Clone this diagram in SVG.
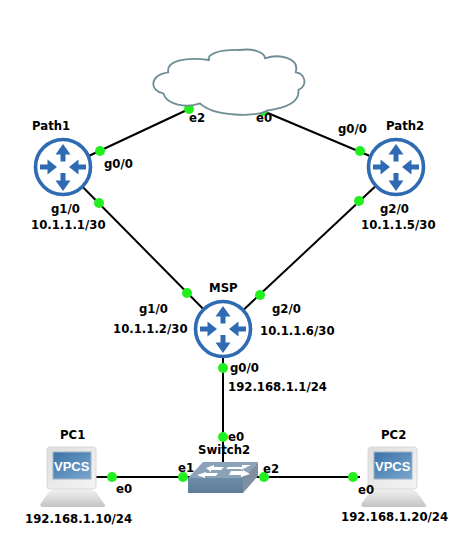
<svg xmlns="http://www.w3.org/2000/svg" width="472" height="551" viewBox="0 0 472 551">
<style>
text{font-family:"DejaVu Sans","Liberation Sans",sans-serif;font-weight:700;font-size:11.7px;fill:#000}
.link{stroke:#000;stroke-width:2;fill:none}
.dot{fill:#22f01e}
.vp{font-family:"Liberation Sans",sans-serif;font-size:13px;fill:#fff}
</style>
<defs>
<linearGradient id="scr" x1="0" y1="0" x2="1" y2="1"><stop offset="0" stop-color="#3a73a8"/><stop offset="1" stop-color="#7ba6cd"/></linearGradient>
<linearGradient id="mon" x1="0" y1="0" x2="1" y2="1"><stop offset="0" stop-color="#dedede"/><stop offset="1" stop-color="#f4f4f4"/></linearGradient>
<linearGradient id="bas" x1="0" y1="0" x2="0" y2="1"><stop offset="0" stop-color="#f2f2f2"/><stop offset="1" stop-color="#c4c4c4"/></linearGradient>
<linearGradient id="swf" x1="0" y1="0" x2="0" y2="1"><stop offset="0" stop-color="#6e8ca6"/><stop offset="1" stop-color="#5d7d99"/></linearGradient>
<g id="router">
<circle r="27.500" fill="#fff" stroke="#2f6bb3" stroke-width="3.600"/>
<path fill="#2f6bb3" d="M0-23 7.500-12.500H2.500V-5.500H-2.500V-12.500H-7.500Z"/>
<path fill="#2f6bb3" d="M0 24 7.500 13.500H2.500V6H-2.500V13.500H-7.500Z"/>
<path fill="#2f6bb3" d="M-6 0-15.500-7.500V-2.500H-23V2.500H-15.500V7.500Z"/>
<path fill="#2f6bb3" d="M6 0 15.500-7.500V-2.500H23V2.500H15.500V7.500Z"/>
</g>
<g id="pc">
<path d="M7 42H44L49 45 58 58Q59 60 55 60H-4Q-8 60-6 56L2 45Z" fill="url(#bas)"/>
<rect x="0" y="0" width="49" height="42" rx="3" fill="url(#mon)" stroke="#d8d8d8"/>
<rect x="6" y="5" width="38" height="27" fill="url(#scr)" stroke="#9fb4c6"/>
<text class="vp" x="7" y="24">VPCS</text>
</g>
</defs>
<rect width="472" height="551" fill="#fff"/>
<g id="connectors">
<path class="link" d="M63 168 189 109"/>
<path class="link" d="M396 167 263 111"/>
<path class="link" d="M63 167 223 329"/>
<path class="link" d="M396 167 223 329"/>
<path class="link" d="M223 329V470"/>
<path class="link" d="M90 477H360"/>
<circle class="dot" cx="100" cy="151" r="5"/>
<circle class="dot" cx="189" cy="109" r="5"/>
<circle class="dot" cx="360" cy="151" r="5"/>
<circle class="dot" cx="263" cy="111" r="5"/>
<circle class="dot" cx="99" cy="203" r="5"/>
<circle class="dot" cx="187" cy="293" r="5"/>
<circle class="dot" cx="359" cy="201" r="5"/>
<circle class="dot" cx="260" cy="295" r="5"/>
<circle class="dot" cx="223" cy="368" r="5"/>
</g>
<g id="cloud">
<path transform="translate(130 40) scale(.3333)" fill="#fff" stroke="#6f8f96" stroke-width="5.500" stroke-linejoin="round" d="M115 97C108 62 165 50 238 60 228 45 262 28 330 30 365 25 405 35 405 55 450 40 510 55 497 97 525 100 535 135 505 150 510 185 470 205 410 212 380 232 250 230 210 190 170 205 110 195 100 160 60 155 55 105 115 97Z"/>
<text x="189" y="122">e2</text>
<text x="256" y="122">e0</text>
</g>
<g id="Path1">
<use href="#router" x="63" y="167"/>
<text x="32" y="130">Path1</text>
<text x="104" y="168">g0/0</text>
<text x="51" y="213">g1/0</text>
<text x="31" y="229">10.1.1.1/30</text>
</g>
<g id="Path2">
<use href="#router" x="396" y="167"/>
<text x="386" y="130">Path2</text>
<text x="338" y="133">g0/0</text>
<text x="380" y="213">g2/0</text>
<text x="361" y="229">10.1.1.5/30</text>
</g>
<g id="MSP">
<use href="#router" x="223" y="329"/>
<text x="209" y="292">MSP</text>
<text x="139" y="313">g1/0</text>
<text x="113" y="333">10.1.1.2/30</text>
<text x="272" y="313">g2/0</text>
<text x="260" y="335">10.1.1.6/30</text>
<text x="230" y="372">g0/0</text>
<text x="228" y="391">192.168.1.1/24</text>
</g>
<g id="Switch2">
<path d="M188 478 203 462H258L243 478Z" fill="#8ba3b8"/>
<path d="M188 478H243V493H188Z" fill="url(#swf)"/>
<path d="M243 478 258 462V476L243 493Z" fill="#7f8f9f"/>
<path fill="#fff" d="M206 468 214 465V467H224L221 470H211V472ZM228 467H242V465L251 465 245 468 241 470V469H226ZM197 475 206 472V473H218L216 476H205V478ZM231 471H243V470L250 474 241 477V475H229Z"/>
<circle class="dot" cx="223" cy="437" r="5"/>
<circle class="dot" cx="183" cy="477" r="5"/>
<circle class="dot" cx="264" cy="477" r="5"/>
<text x="228" y="441">e0</text>
<text x="198" y="454">Switch2</text>
<text x="178" y="472">e1</text>
<text x="263" y="473">e2</text>
</g>
<g id="PC1">
<use href="#pc" x="47" y="447"/>
<circle class="dot" cx="112" cy="477" r="5"/>
<text x="60" y="439">PC1</text>
<text x="116" y="493">e0</text>
<text x="25" y="523">192.168.1.10/24</text>
</g>
<g id="PC2">
<use href="#pc" x="368" y="447"/>
<circle class="dot" cx="353" cy="477" r="5"/>
<text x="381" y="439">PC2</text>
<text x="358" y="494">e0</text>
<text x="341" y="521">192.168.1.20/24</text>
</g>
</svg>
